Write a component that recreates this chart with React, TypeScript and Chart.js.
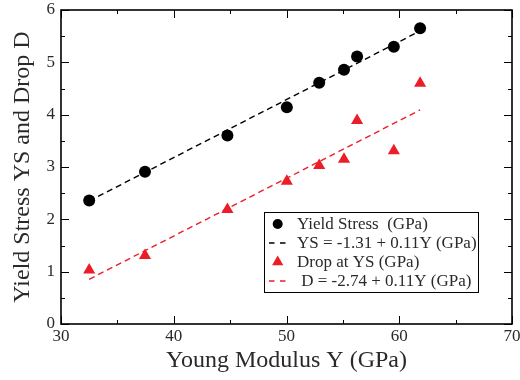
import React, { useEffect, useRef } from "react";
import { Chart, registerables } from "chart.js";

Chart.register(...registerables);

const youngModulus = [32.5, 37.45, 44.76, 50.03, 52.9, 55.1, 56.26, 59.52, 61.85];
const yieldStress = [2.36, 2.91, 3.6, 4.14, 4.61, 4.86, 5.11, 5.3, 5.65];
const dropAtYS = [1.03, 1.31, 2.19, 2.73, 3.03, 3.15, 3.89, 3.31, 4.6];

const ysFitX = [32.5, 61.85];
const ysFitY = [2.35, 5.6];
const dFitX = [32.5, 61.85];
const dFitY = [0.855, 4.09];

const seriesLabels = [
  "Yield Stress  (GPa)",
  "YS = -1.31 + 0.11Y (GPa)",
  "Drop at YS (GPa)",
  " D = -2.74 + 0.11Y (GPa)",
];

const xTitle = "Young Modulus Y (GPa)";
const yTitle = "Yield Stress YS and Drop D";

const RED = "rgb(235,30,40)";
const FONT = "'Liberation Serif', 'Times New Roman', serif";
const TEXT = "#2a2a2a";

const framePlugin = {
  id: "frameTicks",
  beforeDatasetsDraw(chart: any) {
    const { ctx, chartArea: a, scales } = chart;
    const xs = scales.x;
    const ys = scales.y;
    ctx.save();
    ctx.strokeStyle = "#000";
    ctx.lineWidth = 1;
    const major = 8;
    const minor = 4;
    ctx.beginPath();
    const xt = xs.ticks.map((t: any) => t.value);
    for (let i = 0; i < xt.length; i++) {
      const px = Math.round(xs.getPixelForValue(xt[i])) + 0.5;
      ctx.moveTo(px, a.bottom); ctx.lineTo(px, a.bottom - major);
      ctx.moveTo(px, a.top); ctx.lineTo(px, a.top + major);
      if (i < xt.length - 1) {
        const pm = Math.round(xs.getPixelForValue((xt[i] + xt[i + 1]) / 2)) + 0.5;
        ctx.moveTo(pm, a.bottom); ctx.lineTo(pm, a.bottom - minor);
        ctx.moveTo(pm, a.top); ctx.lineTo(pm, a.top + minor);
      }
    }
    const yt = ys.ticks.map((t: any) => t.value);
    for (let i = 0; i < yt.length; i++) {
      const py = Math.round(ys.getPixelForValue(yt[i])) + 0.5;
      ctx.moveTo(a.left, py); ctx.lineTo(a.left + major, py);
      ctx.moveTo(a.right, py); ctx.lineTo(a.right - major, py);
      if (i < yt.length - 1) {
        const pm = Math.round(ys.getPixelForValue((yt[i] + yt[i + 1]) / 2)) + 0.5;
        ctx.moveTo(a.left, pm); ctx.lineTo(a.left + minor, pm);
        ctx.moveTo(a.right, pm); ctx.lineTo(a.right - minor, pm);
      }
    }
    ctx.stroke();
    ctx.lineWidth = 1.6;
    ctx.strokeRect(a.left, a.top, a.right - a.left, a.bottom - a.top);
    ctx.restore();
  },
};

const legendPlugin = {
  id: "insideLegend",
  afterDraw(chart: any) {
    const { ctx, chartArea: a } = chart;
    const left = a.left + 203;
    const top = a.top + 202.5;
    const w = 214;
    const h = 80;
    ctx.save();
    ctx.fillStyle = "#fff";
    ctx.fillRect(left, top, w, h);
    ctx.strokeStyle = "#000";
    ctx.lineWidth = 1;
    ctx.strokeRect(left + 0.5, top, w, h);
    const rows = [top + 11.5, top + 30.5, top + 49.5, top + 68.5];
    const mx = left + 13.7;
    ctx.font = `17px ${FONT}`;
    ctx.textBaseline = "middle";
    ctx.textAlign = "left";
    chart.data.datasets.forEach((ds: any, i: number) => {
      const y = rows[i];
      if (ds.showLine) {
        ctx.strokeStyle = ds.borderColor;
        ctx.lineWidth = 1.4;
        ctx.setLineDash([5.5, 5.5]);
        ctx.beginPath();
        ctx.moveTo(left + 5, y);
        ctx.lineTo(left + 23, y);
        ctx.stroke();
        ctx.setLineDash([]);
      } else if (ds.pointStyle === "triangle") {
        ctx.fillStyle = ds.backgroundColor;
        const r = 6.5;
        ctx.beginPath();
        ctx.moveTo(mx, y - r);
        ctx.lineTo(mx + r * Math.sin((2 * Math.PI) / 3), y - r * Math.cos((2 * Math.PI) / 3));
        ctx.lineTo(mx + r * Math.sin((4 * Math.PI) / 3), y - r * Math.cos((4 * Math.PI) / 3));
        ctx.closePath();
        ctx.fill();
      } else {
        ctx.fillStyle = ds.backgroundColor;
        ctx.beginPath();
        ctx.arc(mx, y, 5, 0, Math.PI * 2);
        ctx.fill();
      }
      ctx.fillStyle = TEXT;
      ctx.fillText(ds.label, left + 33, y + 1);
    });
    ctx.restore();
  },
};

export default function App() {
  const ref = useRef<HTMLCanvasElement | null>(null);
  useEffect(() => {
    if (!ref.current) return;
    const chart = new Chart(ref.current, {
      type: "scatter",
      data: {
        datasets: [
          {
            label: seriesLabels[0],
            data: youngModulus.map((x, i) => ({ x, y: yieldStress[i] })),
            backgroundColor: "#000",
            borderColor: "#000",
            pointStyle: "circle",
            pointRadius: 6,
            pointBorderWidth: 0,
            showLine: false,
            order: 0,
          },
          {
            label: seriesLabels[1],
            data: ysFitX.map((x, i) => ({ x, y: ysFitY[i] })),
            borderColor: "#000",
            backgroundColor: "#000",
            borderWidth: 1.4,
            borderDash: [6, 4],
            pointRadius: 0,
            showLine: true,
            order: 1,
          },
          {
            label: seriesLabels[2],
            data: youngModulus.map((x, i) => ({ x, y: dropAtYS[i] })),
            backgroundColor: RED,
            borderColor: RED,
            pointStyle: "triangle",
            pointRadius: 7,
            pointBorderWidth: 0,
            showLine: false,
            order: 0,
          },
          {
            label: seriesLabels[3],
            data: dFitX.map((x, i) => ({ x, y: dFitY[i] })),
            borderColor: RED,
            backgroundColor: RED,
            borderWidth: 1.4,
            borderDash: [6, 4],
            pointRadius: 0,
            showLine: true,
            order: 1,
          },
        ],
      },
      options: {
        animation: false,
        responsive: false,
        layout: { padding: { top: 10, right: 8, left: 0, bottom: 0 } },
        plugins: {
          legend: { display: false },
          tooltip: { enabled: false },
        },
        scales: {
          x: {
            type: "linear",
            min: 30,
            max: 70,
            ticks: { stepSize: 10, padding: 2, color: TEXT, font: { family: FONT, size: 17 } },
            grid: { display: false, drawTicks: false },
            border: { display: false },
            title: {
              display: true,
              text: xTitle,
              color: TEXT,
              font: { family: FONT, size: 24 },
              padding: { top: 0, bottom: 5 },
            },
            afterFit: (s: any) => { s.height = 56; s.paddingLeft = 0; s.paddingRight = 0; },
          },
          y: {
            type: "linear",
            min: 0,
            max: 6,
            ticks: { stepSize: 1, padding: 6, color: TEXT, font: { family: FONT, size: 17 } },
            grid: { display: false, drawTicks: false },
            border: { display: false },
            title: {
              display: true,
              text: yTitle,
              color: TEXT,
              font: { family: FONT, size: 24 },
              padding: { top: 8, bottom: 0 },
            },
            afterFit: (s: any) => { s.width = 61; s.paddingTop = 0; s.paddingBottom = 0; },
          },
        },
      },
      plugins: [framePlugin, legendPlugin],
    });
    return () => chart.destroy();
  }, []);
  return (
    <canvas
      ref={ref}
      width={520}
      height={380}
      style={{ position: "absolute", left: 0, top: 0, width: 520, height: 380, display: "block" }}
    />
  );
}
